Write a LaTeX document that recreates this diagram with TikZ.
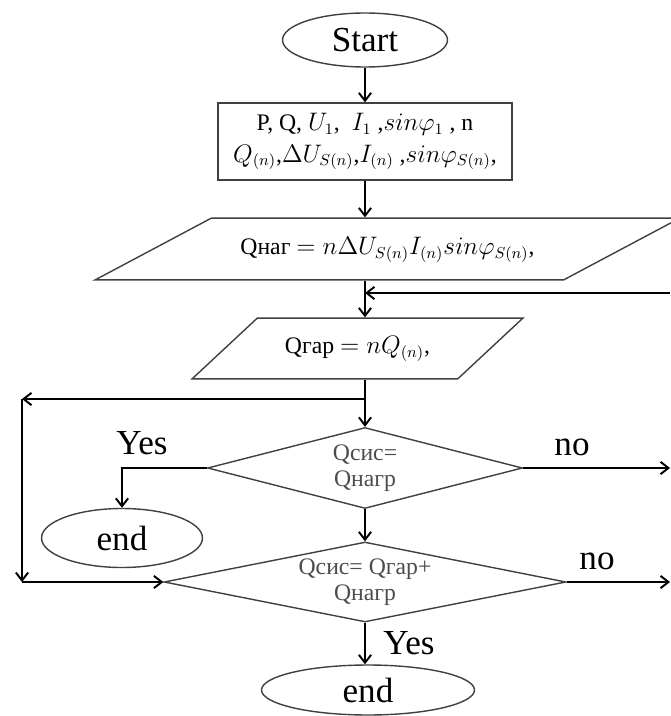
\documentclass[tikz,border=0pt]{standalone}
\usepackage{fontspec}
\setmainfont{Liberation Serif}
\usetikzlibrary{shapes.geometric,arrows.meta}

\begin{document}
\begin{tikzpicture}[x=0.02cm,y=-0.02cm,
    line width=1.1pt, >={Straight Barb[length=4.5pt,width=7pt]},
    term/.style={draw=black!75,line width=0.8pt,ellipse,inner sep=0pt,
      font=\fontsize{20}{22}\selectfont},
    databox/.style={draw=black!75,line width=0.8pt,rectangle,align=center,
      minimum width=5.88cm,minimum height=1.54cm,
      font=\fontsize{13.5}{18}\selectfont},
    inout/.style={draw=black!75,line width=0.8pt,trapezium,
      trapezium stretches body=true,inner xsep=0pt,
      text height=10pt,text depth=4pt,
      font=\fontsize{13.5}{15}\selectfont},
    test/.style={draw=black!75,line width=0.8pt,diamond,inner sep=0pt,
      align=center,text=black!70,font=\fontsize{13.5}{15}\selectfont},
    lbl/.style={font=\fontsize{20}{22}\selectfont}]
  \useasboundingbox (0,0) rectangle (670,716) ;
  % blocks
  \node[term,minimum width=3.3cm,minimum height=1.08cm] (start) at (365,40) {Start} ;
  \node[databox] (data) at (365,141.5)
    {P, Q, $U_1$,\ \ $I_1$ ,$sin\varphi_1$ , n\\
     $Q_{(n)}$,$\Delta U_{S(n)}$,$I_{(n)}$ ,$sin\varphi_{S(n)}$,} ;
  \node[inout,trapezium left angle=28,trapezium right angle=152,
    minimum width=11.7cm,inner ysep=0.373cm] (load) at (387.5,249)
    {Qнаг $= n\Delta U_{S(n)}I_{(n)}sin\varphi_{S(n)}$,} ;
  \node[inout,trapezium left angle=43,trapezium right angle=137,
    minimum width=6.62cm,inner ysep=0.363cm] (harm) at (357.5,348.5)
    {Qгар $= nQ_{(n)}$,} ;
  \node[test,aspect=3.9,minimum width=6.3cm,minimum height=1.62cm] (check1) at (365,468)
    {Qсис=\\Qнагр} ;
  \node[test,aspect=5,minimum width=8.04cm,minimum height=1.6cm] (check2) at (365,582)
    {Qсис= Qгар+\\Qнагр} ;
  \node[term,minimum width=3.22cm,minimum height=1.18cm] (end1) at (122,538) {end} ;
  \node[term,minimum width=4.26cm,minimum height=1.0cm] (end2) at (368,690) {end} ;
  % labels
  \node[lbl] (yes1) at (142,443) {Yes} ;
  \node[lbl] (no1) at (572,447) {no} ;
  \node[lbl] (no2) at (597,561) {no} ;
  \node[lbl] (yes2) at (409,643) {Yes} ;
  % corners
  \coordinate (back) at (670,293) ;
  \coordinate (split) at (365,399) ;
  \coordinate (topleft) at (22,399) ;
  \coordinate (botleft) at (22,582) ;
  \coordinate (out1) at (670,468) ;
  \coordinate (out2) at (670,582) ;
  % flow
  \draw[->] (start) -- (data) ;
  \draw[->] (data) -- (data.south |- load.north) ;
  \draw[->] (data.south |- load.south) -- (data.south |- harm.north) ;
  \draw[->] (back) -- (data.south |- back) ;
  \draw[->] (data.south |- harm.south) -- (check1) ;
  \draw[->] (split) -- (topleft) ;
  \draw[->] (topleft) -- (botleft) ;
  \draw[->] (botleft) -- (check2.west) ;
  \draw[->] (check1.west) -| (end1.north) ;
  \draw[->] (check1.east) -- (out1) ;
  \draw[->] (check1) -- (check2) ;
  \draw[->] (check2.east) -- (out2) ;
  \draw[->] (check2) -- (check2.south |- end2.north) ;
\end{tikzpicture}
\end{document}
